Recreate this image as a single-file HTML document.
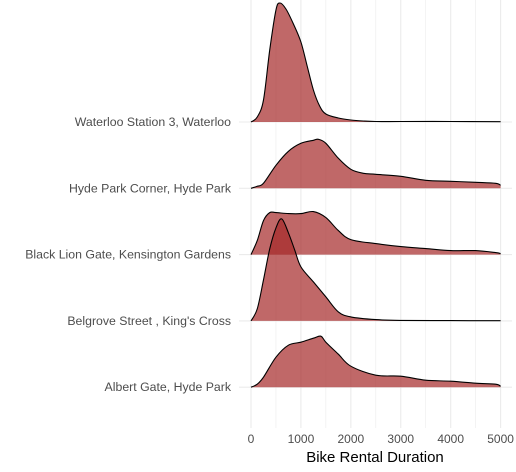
<!DOCTYPE html>
<html><head><meta charset="utf-8"><style>
body{margin:0;background:#fff;}
svg{display:block;font-family:"Liberation Sans",Arial,sans-serif;}
</style></head><body>
<svg id="chart" width="516" height="472"></svg>
<script>
const categories=["Waterloo Station 3, Waterloo","Hyde Park Corner, Hyde Park","Black Lion Gate, Kensington Gardens","Belgrove Street , King's Cross","Albert Gate, Hyde Park"];
const xWaterloo=[0,125,250,375,500,580,700,850,1000,1125,1250,1375,1500,1750,2000,2250,2500,3000,4000,5000];
const dWaterloo=[0,5,22,72,112,119,113,98,80,56,32,16,8,4,2,1,0.5,0.5,0.5,0.3];
const xHyde=[0,125,250,500,750,1000,1250,1350,1500,1750,2000,2250,2500,3000,3500,4000,4500,4900,5000];
const dHyde=[0,2,5,23,37,45,48,49,45,30,19,15,14,12,8,7,6,5,3];
const xBlack=[0,125,250,375,500,750,1000,1250,1500,1750,2000,2500,3000,3500,4000,4500,4900,5000];
const dBlack=[0,14,34,42,42,41,41,43,37,24,15,11,8,6,4,4,2,1];
const xBelgrove=[0,125,250,375,500,615,750,875,1000,1250,1500,1750,2000,2500,3000,4000,5000];
const dBelgrove=[0,12,41,72,93,102,88,71,54,39,24,9,4,1.3,0.5,0.3,0.2];
const xAlbert=[0,125,250,500,750,1000,1250,1400,1500,1750,2000,2500,3000,3500,4000,4500,4900,5000];
const dAlbert=[0,3,10,30,42,45,49,51,45,33,21,12,11,7,6,4,3,1];
const xTicks=[0,1000,2000,3000,4000,5000];
const seriesX=[xWaterloo,xHyde,xBlack,xBelgrove,xAlbert];
const seriesD=[dWaterloo,dHyde,dBlack,dBelgrove,dAlbert];

const NS="http://www.w3.org/2000/svg";
const svg=document.getElementById('chart');
const L=239,R=512,T=0,B=428;
const xs=v=>251+v*(249.6/5000);
const base=i=>122+i*66.3;
const ys=(i,d)=>base(i)-d;
function mk(t,a){const e=document.createElementNS(NS,t);for(const k in a)e.setAttribute(k,a[k]);svg.appendChild(e);return e;}
for(let v=0;v<=5000;v+=500){
  const g=mk('line',{x1:xs(v),x2:xs(v),y1:T,y2:B,stroke:'#ebebeb','stroke-width':v%1000===0?1.1:0.6});
  
  
}
categories.forEach((c,i)=>{
  const g=mk('line',{x1:L,x2:R,y1:base(i),y2:base(i),stroke:'#ebebeb','stroke-width':1.1});
  
  
});
function smooth(pts){
  let d=`M${pts[0][0]},${pts[0][1]}`;
  for(let i=0;i<pts.length-1;i++){
    const p0=pts[Math.max(0,i-1)],p1=pts[i],p2=pts[i+1],p3=pts[Math.min(pts.length-1,i+2)];
    const c1=[p1[0]+(p2[0]-p0[0])/6,p1[1]+(p2[1]-p0[1])/6];
    const c2=[p2[0]-(p3[0]-p1[0])/6,p2[1]-(p3[1]-p1[1])/6];
    d+=` C${c1[0]},${c1[1]} ${c2[0]},${c2[1]} ${p2[0]},${p2[1]}`;
  }
  return d;
}
categories.forEach((c,i)=>{
  const X=seriesX[i],D=seriesD[i];
  const pts=X.map((v,j)=>[xs(v),ys(i,D[j])]);
  const line=smooth(pts);
  const area=mk('path',{d:line+` L${xs(X[X.length-1])},${base(i)} L${xs(X[0])},${base(i)} Z`,fill:'rgba(165,40,40,0.7)',stroke:'none'});
  
  
  const ln=mk('path',{d:line,fill:'none',stroke:'#000','stroke-width':1.1});
  
  
  const t=mk('text',{x:231,y:base(i)+4,'text-anchor':'end','font-size':12.3,fill:'#4d4d4d'});
  t.textContent=c;
  
  
});
xTicks.forEach(v=>{
  const t=mk('text',{x:xs(v),y:443,'text-anchor':'middle','font-size':12,fill:'#4d4d4d'});
  t.textContent=v;
  
  
});
const ti=mk('text',{x:375,y:462,'text-anchor':'middle','font-size':15,fill:'#000'});
ti.textContent='Bike Rental Duration';


</script>
</body></html>
